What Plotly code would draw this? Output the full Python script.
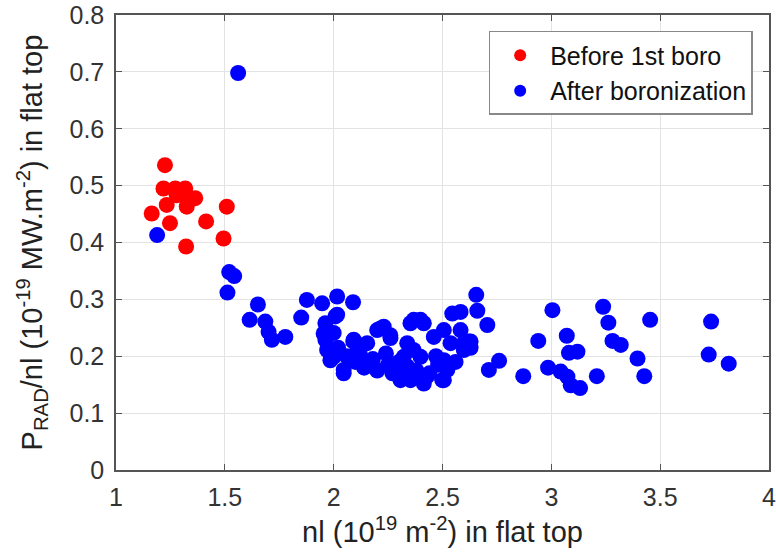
import plotly.graph_objects as go

before_x = [1.225, 1.218, 1.272, 1.318, 1.279, 1.325, 1.364, 1.233, 1.325, 1.164,
            1.509, 1.248, 1.414, 1.494, 1.322]
before_y = [0.536, 0.495, 0.495, 0.495, 0.483, 0.481, 0.478, 0.466, 0.463, 0.451,
            0.463, 0.434, 0.437, 0.407, 0.393]

after_x = [1.561, 1.189, 1.520, 1.543, 1.512, 1.652, 1.614, 1.686, 1.701, 1.716,
           1.778, 1.877, 1.851, 1.947, 2.016, 2.089, 2.016, 1.962, 1.954, 2.000,
           1.962, 2.092, 1.970, 1.985, 2.046, 2.200, 2.008, 2.090, 2.215, 2.260,
           2.154, 2.000, 2.046, 2.169, 2.290, 2.353, 2.367, 2.322, 2.353, 2.399,
           2.338, 2.460, 2.598, 2.537, 2.399, 2.506, 2.338, 2.414, 2.506, 2.522,
           2.368, 2.414, 2.583, 2.621, 2.506, 2.598, 2.230, 2.261, 2.499, 2.307,
           2.545, 2.583, 2.655, 2.660, 2.706, 2.629, 2.629, 2.713, 2.760, 2.871,
           2.940, 3.005, 2.985, 3.071, 3.081, 3.120, 3.043, 3.074, 3.089, 3.132,
           3.209, 3.238, 3.262, 3.281, 3.319, 3.396, 3.427, 3.454, 3.734, 3.723,
           3.815, 2.120, 2.180, 2.250, 2.300, 2.380, 2.440, 2.480, 2.100, 2.060,
           2.140, 2.200, 2.270, 2.430, 2.470, 2.560, 2.020, 2.110, 2.240, 2.320]
after_y = [0.698, 0.413, 0.348, 0.341, 0.312, 0.291, 0.264, 0.261, 0.243, 0.229,
           0.234, 0.299, 0.268, 0.293, 0.305, 0.295, 0.273, 0.258, 0.240, 0.241,
           0.229, 0.229, 0.211, 0.193, 0.176, 0.246, 0.270, 0.226, 0.249, 0.237,
           0.223, 0.199, 0.170, 0.188, 0.176, 0.158, 0.211, 0.199, 0.258, 0.264,
           0.223, 0.234, 0.223, 0.223, 0.199, 0.193, 0.182, 0.152, 0.158, 0.176,
           0.264, 0.258, 0.246, 0.226, 0.246, 0.211, 0.252, 0.232, 0.158, 0.158,
           0.275, 0.278, 0.308, 0.280, 0.255, 0.226, 0.215, 0.176, 0.192, 0.165,
           0.227, 0.281, 0.180, 0.236, 0.206, 0.208, 0.173, 0.164, 0.149, 0.144,
           0.165, 0.287, 0.259, 0.227, 0.220, 0.196, 0.165, 0.264, 0.261, 0.203,
           0.187, 0.205, 0.195, 0.185, 0.190, 0.175, 0.170, 0.185, 0.190, 0.200,
           0.180, 0.175, 0.170, 0.165, 0.200, 0.190, 0.215, 0.215, 0.205, 0.168]

x_ticks = [1, 1.5, 2, 2.5, 3, 3.5, 4]
x_tick_text = ["1", "1.5", "2", "2.5", "3", "3.5", "4"]
y_ticks = [0, 0.1, 0.2, 0.3, 0.4, 0.5, 0.6, 0.7, 0.8]
y_tick_text = ["0", "0.1", "0.2", "0.3", "0.4", "0.5", "0.6", "0.7", "0.8"]

FONT = "Liberation Sans, Arial"

fig = go.Figure()
fig.add_trace(go.Scatter(x=before_x, y=before_y, mode="markers", name="Before 1st boro",
                         marker=dict(color="#ff0000", size=16, line=dict(width=0))))
fig.add_trace(go.Scatter(x=after_x, y=after_y, mode="markers", name="After boronization",
                         marker=dict(color="#0000ff", size=16, line=dict(width=0))))

axis_common = dict(showgrid=True, gridcolor="#e3e3e3", gridwidth=1, zeroline=False,
                   showline=True, linecolor="#555555", linewidth=1.5, mirror="ticks",
                   ticks="inside", ticklen=6, tickcolor="#555555", automargin=False,
                   ticklabeloverflow="allow",
                   tickfont=dict(family=FONT, size=25, color="#333333"))

fig.update_layout(
    width=776, height=560,
    margin=dict(l=116, r=7, t=15, b=90),
    paper_bgcolor="white", plot_bgcolor="white",
    xaxis=dict(range=[1, 4], tickvals=x_ticks, ticktext=x_tick_text,
               ticklabelstandoff=4,
               title=dict(text="nl (10<sup>19</sup> m<sup>-2</sup>) in flat top",
                          font=dict(family=FONT, size=29, color="#222222"),
                          standoff=12),
               **axis_common),
    yaxis=dict(range=[0, 0.8], tickvals=y_ticks, ticktext=y_tick_text,
               ticklabelstandoff=5,
               title=dict(text="P<sub>RAD</sub>/nl (10<sup>-19</sup> MW.m<sup>-2</sup>) in flat top",
                          font=dict(family=FONT, size=29, color="#222222"),
                          standoff=18),
               **axis_common),
    legend=dict(x=0.975, y=0.965, xanchor="right", yanchor="top",
                bgcolor="white", bordercolor="#888888", borderwidth=1.5,
                font=dict(family=FONT, size=25, color="#111111"),
                itemsizing="constant", itemwidth=50),
    showlegend=True,
)

fig.write_html("out.html")
